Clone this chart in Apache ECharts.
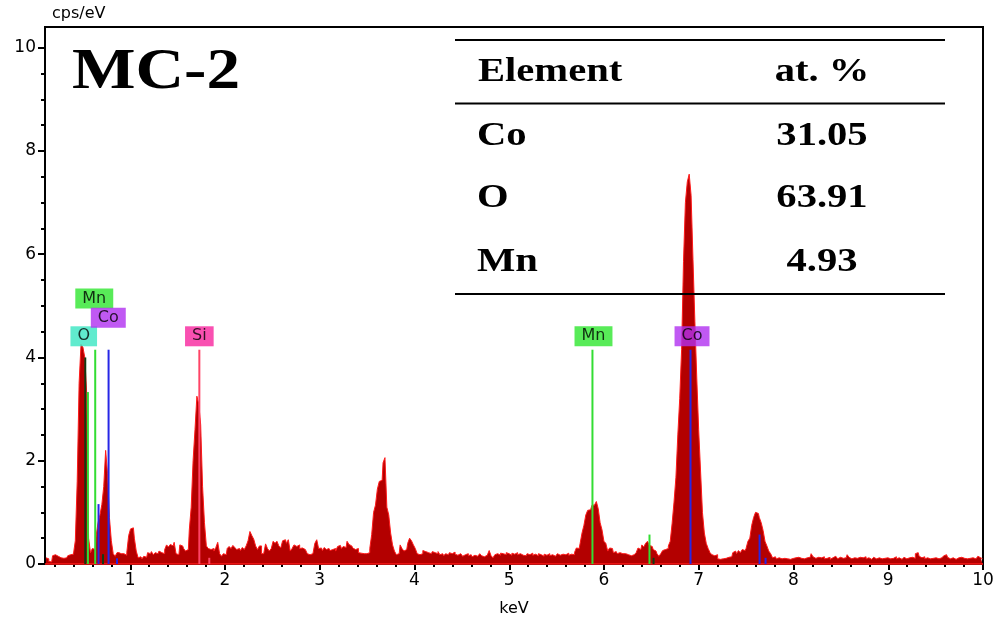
<!DOCTYPE html>
<html>
<head>
<meta charset="utf-8">
<title>MC-2 EDS spectrum</title>
<script src="https://cdn.jsdelivr.net/npm/echarts@6/dist/echarts.min.js"></script>
<style>
html, body { margin: 0; padding: 0; background: #fff; }
#chart { width: 1000px; height: 622px; }
</style>
</head>
<body>
<div id="chart"></div>
<script>
// spectrum (cps/eV), 0.02 keV channels in segments
const segStart = [0.11, 0.893, 2.398, 5.889, 8.016];
const step = 0.02;
const segA = [0.12,0.10,0.05,0.04,0.16,0.18,0.15,0.17,0.12,0.11,
  0.14,0.12,0.16,0.18,0.19,0.22,0.45,1.6,3.5,4.25,
  4.2,4.0,3.3,0.5,0.22,0.3,0.28,0.55,0.8,0.95,
  1.15,1.5,2.2,1.75,0.9,0.45,0.2,0.15,0.22];
const segB = [0.2,0.18,0.2,0.17,0.22,0.55,0.68,0.7,0.5,0.25,
  0.12,0.14,0.1,0.15,0.13,0.22,0.2,0.24,0.18,0.22,
  0.2,0.25,0.22,0.2,0.28,0.37,0.33,0.38,0.35,0.42,
  0.2,0.18,0.37,0.35,0.3,0.25,0.28,0.66,1.1,2.0,
  2.6,3.25,3.1,2.7,1.5,0.8,0.35,0.3,0.28,0.3,
  0.25,0.32,0.42,0.2,0.15,0.2,0.18,0.3,0.34,0.3,
  0.36,0.32,0.28,0.3,0.26,0.32,0.28,0.35,0.45,0.63,
  0.55,0.48,0.35,0.28,0.35];
const segC = [0.2,0.22,0.39,0.3,0.25,0.3,0.44,0.4,0.44,0.35,
  0.31,0.45,0.47,0.4,0.47,0.25,0.3,0.37,0.34,0.37,
  0.3,0.31,0.28,0.3,0.2,0.18,0.2,0.22,0.4,0.47,
  0.3,0.31,0.26,0.32,0.28,0.3,0.26,0.28,0.3,0.25,
  0.34,0.36,0.3,0.34,0.32,0.44,0.38,0.35,0.31,0.28,
  0.3,0.22,0.21,0.2,0.22,0.2,0.22,0.3,0.57,1.0,
  1.14,1.45,1.6,1.62,1.96,2.06,1.1,0.95,0.6,0.37,
  0.25,0.18,0.2,0.37,0.3,0.25,0.28,0.4,0.5,0.45,
  0.37,0.3,0.2,0.18,0.2,0.26,0.24,0.22,0.25,0.2,
  0.24,0.22,0.2,0.24,0.18,0.2,0.16,0.2,0.18,0.22,
  0.2,0.23,0.19,0.17,0.2,0.18,0.15,0.18,0.2,0.16,
  0.18,0.14,0.17,0.15,0.18,0.2,0.16,0.14,0.17,0.15,
  0.26,0.16,0.12,0.18,0.2,0.17,0.21,0.2,0.18,0.22,
  0.2,0.17,0.21,0.19,0.22,0.18,0.2,0.17,0.19,0.16,
  0.2,0.18,0.21,0.17,0.19,0.16,0.2,0.18,0.15,0.19,
  0.17,0.2,0.16,0.18,0.15,0.18,0.2,0.17,0.19,0.2,
  0.18,0.21,0.17,0.19,0.18,0.22,0.31,0.3,0.4,0.6,
  0.75,0.95,1.04,1.05];
const segD = [1.14,1.12,1.21,1.07,0.8,0.66,0.44,0.4,0.25,0.31,
  0.3,0.22,0.24,0.2,0.22,0.2,0.17,0.2,0.18,0.2,
  0.16,0.18,0.2,0.22,0.31,0.28,0.37,0.33,0.4,0.44,
  0.36,0.34,0.28,0.25,0.2,0.15,0.2,0.26,0.28,0.3,
  0.35,0.44,0.79,1.2,1.68,2.5,3.2,4.15,5.86,7.0,
  7.4,7.55,7.14,5.9,4.7,3.6,2.6,1.8,1.0,0.6,
  0.4,0.3,0.22,0.18,0.16,0.18,0.1,0.09,0.1,0.12,
  0.11,0.13,0.12,0.14,0.22,0.25,0.2,0.26,0.22,0.28,
  0.26,0.3,0.44,0.5,0.75,0.9,1.0,0.98,0.9,0.8,
  0.65,0.44,0.35,0.25,0.2,0.12,0.14,0.1,0.12,0.1,
  0.13,0.11,0.1,0.12,0.09,0.11];
const segE = [0.12,0.1,0.13,0.11,0.14,0.1,0.12,0.09,0.13,0.2,
  0.14,0.11,0.13,0.1,0.12,0.14,0.1,0.11,0.13,0.09,
  0.12,0.15,0.12,0.1,0.13,0.11,0.14,0.12,0.18,0.13,
  0.1,0.12,0.15,0.11,0.13,0.1,0.12,0.14,0.1,0.12,
  0.09,0.11,0.13,0.1,0.12,0.14,0.1,0.11,0.09,0.12,
  0.1,0.13,0.11,0.14,0.1,0.12,0.09,0.11,0.13,0.1,
  0.12,0.1,0.13,0.11,0.2,0.22,0.15,0.12,0.14,0.1,
  0.12,0.1,0.13,0.11,0.12,0.14,0.1,0.12,0.11,0.16,
  0.18,0.13,0.1,0.12,0.11,0.09,0.12,0.1,0.13,0.11,
  0.12,0.1,0.11,0.09,0.12,0.1,0.13,0.15,0.12,0.1];
const segments = [segA, segB, segC, segD, segE];

// element marker lines (keV, height)
const lineElem = ['O', 'Mn', 'Mn', 'Co', 'O', 'Co', 'Co', 'Si', 'Si', 'Mn', 'Mn', 'O', 'Co', 'Co', 'Co'];
const lineKeV = [0.525, 0.553, 0.630, 0.665, 0.712, 0.771, 0.86, 1.729, 1.834, 5.878, 6.48, 6.523, 6.913, 7.642, 7.705];
const lineHeight = [4.0, 3.33, 4.15, 1.16, 0.19, 4.15, 0.11, 4.15, 0.12, 4.15, 0.57, 0.12, 4.15, 0.57, 0.12];

// element tags
const tagElem = ['O', 'Mn', 'Co', 'Si', 'Mn', 'Co'];
const tagKeV = [0.509, 0.620, 0.768, 1.729, 5.889, 6.929];
const tagLevel = [4.41, 5.14, 4.77, 4.41, 4.41, 4.41];

// composition table
const tableElem = ['Co', 'O', 'Mn'];
const tableAt = ['31.05', '63.91', '4.93'];

// ticks
const xMajor = [1, 2, 3, 4, 5, 6, 7, 8, 9, 10];
const yMajor = [0, 2, 4, 6, 8, 10];
const xMinor = [];
for (let i = 1; i < 50; i++) if (i % 5) xMinor.push(+(i * 0.2).toFixed(1));
const yMinor = [];
for (let i = 1; i <= 20; i++) if (i % 4) yMinor.push(i * 0.5);

const lineColor = { O: '#123a12', Mn: '#33dd33', Co: '#2626e6', Si: '#ff4466' };
const tagColor = { O: '#38e6c2', Mn: '#2ee62e', Co: '#b030f0', Si: '#f8249e' };

const spectrum = [];
segments.forEach((seg, s) => {
  seg.forEach((v, i) => spectrum.push([+(segStart[s] + i * step).toFixed(3), v]));
});

const tickFont = { fontFamily: 'DejaVu Sans', fontSize: 17, color: '#000' };
const nameFont = { fontFamily: 'DejaVu Sans', fontSize: 16, color: '#000' };
const serif = '"Liberation Serif", "Times New Roman", serif';

const chart = echarts.init(document.getElementById('chart'));

const graphic = [
  { type: 'text', x: 72, y: 73, scaleX: 1.16, z: 100,
    style: { text: 'MC-2', font: 'bold 58px ' + serif, fill: '#000', align: 'left', verticalAlign: 'middle', textAlign: 'left', textVerticalAlign: 'middle' } },
  { type: 'line', z: 100, shape: { x1: 455, y1: 40, x2: 945, y2: 40 }, style: { stroke: '#000', lineWidth: 2 } },
  { type: 'line', z: 100, shape: { x1: 455, y1: 103.5, x2: 945, y2: 103.5 }, style: { stroke: '#000', lineWidth: 2 } },
  { type: 'line', z: 100, shape: { x1: 455, y1: 294, x2: 945, y2: 294 }, style: { stroke: '#000', lineWidth: 2 } }
];
const cellText = (txt, x, y, align) => ({
  type: 'text', x: x, y: y, scaleX: 1.23, z: 100,
  style: { text: txt, font: 'bold 33px ' + serif, fill: '#000', align: align, verticalAlign: 'middle', textAlign: align, textVerticalAlign: 'middle' }
});
graphic.push(cellText('Element', 478, 72.5, 'left'));
graphic.push(cellText('at. %', 822, 72.5, 'center'));
const rowY = [136, 198.5, 262];
tableElem.forEach((e, i) => {
  graphic.push(cellText(e, 477, rowY[i], 'left'));
  graphic.push(cellText(tableAt[i], 822, rowY[i], 'center'));
});

chart.setOption({
  animation: false,
  backgroundColor: '#fff',
  grid: { left: 45, right: 17, top: 27, bottom: 49, show: true, borderColor: '#000', borderWidth: 2 },
  xAxis: [
    {
      type: 'value', min: 0.1, max: 10,
      name: 'keV', nameLocation: 'middle', nameGap: 37, nameTextStyle: nameFont,
      axisLine: { lineStyle: { color: '#000', width: 2 } },
      axisTick: { customValues: xMajor, length: 6, lineStyle: { color: '#000', width: 2 } },
      axisLabel: Object.assign({ customValues: xMajor, margin: 8 }, tickFont),
      splitLine: { show: false }
    },
    {
      type: 'value', min: 0.1, max: 10, position: 'bottom',
      axisLine: { show: false },
      axisTick: { customValues: xMinor, length: 3, lineStyle: { color: '#000', width: 2 } },
      axisLabel: { show: false },
      splitLine: { show: false }
    }
  ],
  yAxis: [
    {
      type: 'value', min: 0, max: 10.4,
      name: 'cps/eV', nameLocation: 'end', nameGap: 5,
      nameTextStyle: Object.assign({ align: 'left', verticalAlign: 'bottom', padding: [0, 0, 0, 7] }, nameFont),
      axisLine: { show: true, lineStyle: { color: '#000', width: 2 } },
      axisTick: { show: true, customValues: yMajor, length: 7, lineStyle: { color: '#000', width: 2 } },
      axisLabel: Object.assign({ customValues: yMajor, margin: 9 }, tickFont),
      splitLine: { show: false }
    },
    {
      type: 'value', min: 0, max: 10.4, position: 'left',
      axisLine: { show: false },
      axisTick: { show: true, customValues: yMinor, length: 4, lineStyle: { color: '#000', width: 2 } },
      axisLabel: { show: false },
      splitLine: { show: false }
    }
  ],
  series: [
    {
      type: 'line',
      data: spectrum,
      step: 'middle',
      symbol: 'none',
      lineStyle: { color: '#ff1a1a', width: 1 },
      areaStyle: { color: '#b30000', opacity: 1 },
      markLine: {
        silent: true, symbol: 'none', label: { show: false },
        lineStyle: { color: '#ff1a1a', width: 1.5, type: 'solid' },
        data: [{ yAxis: 0 }]
      },
      z: 2
    },
    {
      type: 'custom',
      data: lineKeV.map((k, i) => [k, lineHeight[i], i]),
      renderItem: (params, api) => {
        const p0 = api.coord([api.value(0), 0]);
        const p1 = api.coord([api.value(0), api.value(1)]);
        const e = lineElem[api.value(2)];
        return {
          type: 'line',
          shape: { x1: p0[0], y1: p0[1], x2: p1[0], y2: p1[1] },
          style: { stroke: lineColor[e], lineWidth: 2 }
        };
      },
      z: 5
    },
    {
      type: 'scatter',
      symbolSize: 1,
      itemStyle: { color: 'rgba(0,0,0,0)' },
      data: tagElem.map((e, i) => ({
        name: e,
        value: [tagKeV[i], tagLevel[i]],
        label: { backgroundColor: tagColor[e] }
      })),
      label: {
        show: true, position: 'inside', formatter: '{b}',
        fontFamily: 'DejaVu Sans', fontSize: 16, color: '#000',
        padding: [2, 7, 2, 7]
      },
      z: 6
    }
  ],
  graphic: graphic
});
</script>
</body>
</html>
